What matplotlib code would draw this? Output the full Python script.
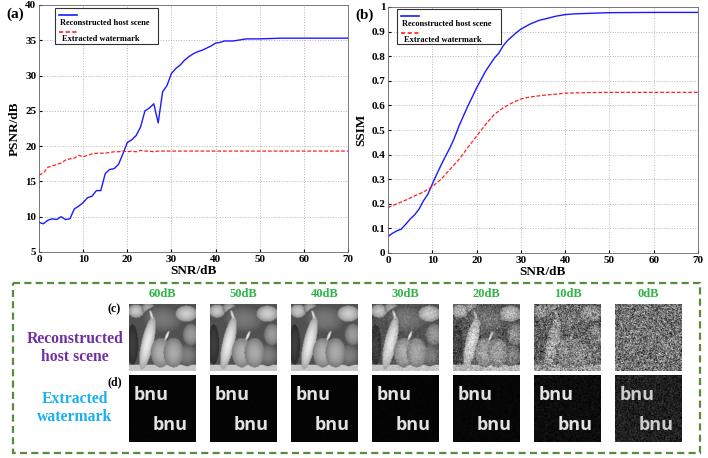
import numpy as np
import matplotlib
matplotlib.use('Agg')
import matplotlib.pyplot as plt
from matplotlib.patches import Rectangle
from matplotlib.lines import Line2D

# ---------------- data ----------------
snr_a = list(range(0, 51)) + [55, 60, 65, 70]
psnr_host = [9.2, 9.0, 9.5, 9.7, 9.6, 10.0, 9.6, 9.7, 11.1, 11.5,
             12.0, 12.7, 12.9, 13.7, 13.7, 16.1, 16.7, 16.8, 17.4, 18.9,
             20.5, 20.9, 21.5, 22.7, 25.0, 25.4, 26.0, 23.3, 27.7, 28.6,
             30.3, 31.0, 31.5, 32.2, 32.7, 33.1, 33.4, 33.6, 33.9, 34.2,
             34.6, 34.7, 34.9, 34.9, 34.9, 35.0, 35.1, 35.2, 35.2, 35.2,
             35.2, 35.3, 35.3, 35.3, 35.3]
psnr_mark = [15.9, 16.2, 17.0, 17.2, 17.4, 17.6, 18.0, 18.2, 18.3, 18.7,
             18.5, 18.7, 18.9, 19.0, 19.0, 19.0, 19.1, 19.2, 19.2, 19.3,
             19.2, 19.3, 19.2, 19.4, 19.3, 19.3, 19.2, 19.3, 19.3, 19.3,
             19.3, 19.3, 19.3, 19.3, 19.3, 19.3, 19.3, 19.3, 19.3, 19.3,
             19.3, 19.3, 19.3, 19.3, 19.3, 19.3, 19.3, 19.3, 19.3, 19.3,
             19.3, 19.3, 19.3, 19.3, 19.3]

snr_b_host = list(range(0, 31)) + [32, 34, 36, 38, 40, 42, 45, 50, 60, 70]
ssim_host = [0.067, 0.080, 0.090, 0.097, 0.117, 0.138, 0.155, 0.178, 0.212, 0.239,
             0.280, 0.320, 0.358, 0.394, 0.428, 0.468, 0.515, 0.556, 0.596, 0.633,
             0.671, 0.704, 0.738, 0.765, 0.792, 0.812, 0.842, 0.864, 0.880, 0.896,
             0.910, 0.930, 0.945, 0.954, 0.963, 0.969, 0.972, 0.974, 0.977, 0.978,
             0.978]
snr_b_mark = [0, 2, 4, 6, 8, 10, 12, 14, 16, 18, 20, 22, 24, 26, 28, 30,
              32, 35, 38, 40, 45, 50, 60, 70]
ssim_mark = [0.185, 0.200, 0.215, 0.232, 0.248, 0.270, 0.300, 0.340, 0.380, 0.428,
             0.475, 0.522, 0.563, 0.590, 0.610, 0.626, 0.634, 0.641, 0.646, 0.650,
             0.652, 0.653, 0.653, 0.653]

col_labels = ['60dB', '50dB', '40dB', '30dB', '20dB', '10dB', '0dB']
legend_labels = ['Reconstructed host scene', 'Extracted watermark']
watermark_text = 'bnu'

# ---------------- style ----------------
plt.rcParams['font.family'] = ['Liberation Serif', 'DejaVu Serif']
plt.rcParams['font.weight'] = 'bold'
W, H = 708, 458
BLUE = '#1a1aff'
RED = '#ff2020'
GREEN_TXT = '#2fb34a'
GREEN_BOX = '#5a8a3a'


def box(x0, y0, x1, y1):
    return [x0 / W, 1 - y1 / H, (x1 - x0) / W, (y1 - y0) / H]


fig = plt.figure(figsize=(W / 100, H / 100), dpi=100)


def style_axes(ax):
    ax.grid(True, ls=':', color='#b5b5b5', lw=0.7)
    ax.tick_params(direction='in', length=2, labelsize=8, pad=2)
    for lab in ax.get_xticklabels() + ax.get_yticklabels():
        lab.set_fontweight('bold')
    for s in ax.spines.values():
        s.set_linewidth(0.6)
        s.set_color('#666666')


# (a) PSNR
ax_a = fig.add_axes(box(39, 5, 348, 252))
ax_a.plot(snr_a, psnr_host, color=BLUE, lw=1.0)
ax_a.plot(snr_a, psnr_mark, color=RED, lw=0.9, ls=(0, (3, 1.5)))
ax_a.set_xlim(0, 70)
ax_a.set_ylim(5, 40)
ax_a.set_xticks(range(0, 71, 10))
ax_a.set_yticks(range(5, 41, 5))
ax_a.set_xlabel('SNR/dB', fontsize=9.5, fontweight='bold', labelpad=1)
ax_a.set_ylabel('PSNR/dB', fontsize=9.5, fontweight='bold', labelpad=3)
style_axes(ax_a)

# (b) SSIM
ax_b = fig.add_axes(box(388, 7, 698, 253))
ax_b.plot(snr_b_host, ssim_host, color=BLUE, lw=1.0)
ax_b.plot(snr_b_mark, ssim_mark, color=RED, lw=0.9, ls=(0, (3, 1.5)))
ax_b.set_xlim(0, 70)
ax_b.set_ylim(0, 1)
ax_b.set_xticks(range(0, 71, 10))
ax_b.set_yticks(np.arange(0, 1.01, 0.1))
ax_b.set_yticklabels(['0'] + [f'{v:.1f}' for v in np.arange(0.1, 0.95, 0.1)] + ['1'])
ax_b.set_xlabel('SNR/dB', fontsize=9.5, fontweight='bold', labelpad=1)
ax_b.set_ylabel('SSIM', fontsize=9.5, fontweight='bold', labelpad=3)
style_axes(ax_b)

# ---------------- synthetic pepper scene ----------------
n = 96
yy, xx = np.mgrid[0:n, 0:n] / n
scene = np.full((n, n), 0.32)
scene[yy > 0.9] = 0.78


def ell(cx, cy, rx, ry, ang, val):
    c, s = np.cos(ang), np.sin(ang)
    u = ((xx - cx) * c + (yy - cy) * s) / rx
    v = (-(xx - cx) * s + (yy - cy) * c) / ry
    d = u ** 2 + v ** 2
    m = d < 1
    scene[m] = val * (1.12 - 0.35 * d[m])


ell(0.10, 0.10, 0.12, 0.10, 0.0, 0.70)
ell(0.28, 0.06, 0.10, 0.08, 0.0, 0.60)
ell(0.50, 0.22, 0.30, 0.20, 0.1, 0.42)
ell(0.85, 0.14, 0.16, 0.12, 0.0, 0.72)
ell(0.92, 0.45, 0.12, 0.16, 0.0, 0.55)
ell(0.86, 0.76, 0.15, 0.16, 0.0, 0.45)
ell(0.05, 0.60, 0.08, 0.30, 0.0, 0.22)
ell(0.27, 0.58, 0.09, 0.40, 0.22, 0.82)
ell(0.47, 0.72, 0.15, 0.22, 0.0, 0.62)
ell(0.66, 0.72, 0.15, 0.22, 0.0, 0.60)
ell(0.56, 0.47, 0.02, 0.08, 0.4, 0.85)
ell(0.33, 0.16, 0.02, 0.08, -0.3, 0.80)

rng = np.random.default_rng(3)
scene_w = [1.0, 1.0, 1.0, 0.97, 0.85, 0.45, 0.04]
scene_sd = [0.0, 0.0, 0.01, 0.05, 0.12, 0.22, 0.26]
mark_mu = [0.02, 0.02, 0.02, 0.02, 0.03, 0.05, 0.12]
mark_sd = [0.006, 0.006, 0.006, 0.01, 0.015, 0.04, 0.09]

lefts = [129, 210, 291, 372, 453, 534, 615]
iw = 67
for k, lab in enumerate(col_labels):
    x0 = lefts[k]
    img = scene_w[k] * scene + (1 - scene_w[k]) * 0.45 + scene_sd[k] * rng.standard_normal((n, n))
    axc = fig.add_axes(box(x0, 304, x0 + iw, 371))
    axc.imshow(np.clip(img, 0, 1), cmap='gray', vmin=0, vmax=1, interpolation='bilinear')
    axc.axis('off')

    wm = mark_mu[k] + mark_sd[k] * rng.standard_normal((n, n))
    axd = fig.add_axes(box(x0, 375, x0 + iw, 442))
    axd.imshow(np.clip(wm, 0, 1), cmap='gray', vmin=0, vmax=1, interpolation='bilinear')
    axd.axis('off')
    tc = '#e2e2e2' if k < 6 else '#cccccc'
    for tx, ty in [(0.07, 0.70), (0.35, 0.26)]:
        axd.text(tx, ty, watermark_text, transform=axd.transAxes, color=tc,
                 fontsize=13, family=['Open Sans', 'DejaVu Sans'], fontweight='bold',
                 va='center', ha='left')

# ---------------- overlay: legends, labels, frame ----------------
ov = fig.add_axes([0, 0, 1, 1])
ov.set_xlim(0, W)
ov.set_ylim(H, 0)
ov.axis('off')


def draw_legend(x0, y0, x1, y1):
    ov.add_patch(Rectangle((x0, y0), x1 - x0, y1 - y0, facecolor='white',
                           edgecolor='#333333', lw=0.8))
    ov.add_line(Line2D([x0 + 4, x0 + 22], [y0 + 7, y0 + 7], color=BLUE, lw=1.2))
    ov.text(x0 + 5, y0 + 15, legend_labels[0], fontsize=6, fontweight='bold', va='center')
    ov.add_line(Line2D([x0 + 4, x0 + 22], [y0 + 24, y0 + 24], color=RED, lw=1.2,
                       ls=(0, (2.5, 1.5))))
    ov.text(x0 + 7, y0 + 31, legend_labels[1], fontsize=6, fontweight='bold', va='center')


draw_legend(55, 8, 158, 44)
draw_legend(397, 9, 501, 44)

ov.text(6, 14, '(a)', fontsize=11, fontweight='bold', va='center')
ov.text(355, 15, '(b)', fontsize=11, fontweight='bold', va='center')

ov.add_patch(Rectangle((13, 283), 687, 170, fill=False, edgecolor=GREEN_BOX,
                       lw=1.6, ls=(0, (3.2, 1.9))))

for k, lab in enumerate(col_labels):
    ov.text(lefts[k] + iw / 2, 294, lab, color=GREEN_TXT, fontsize=9,
            fontweight='bold', ha='center', va='center')

ov.text(121, 309, '(c)', fontsize=8.6, fontweight='bold', ha='right', va='center')
ov.text(122, 382, '(d)', fontsize=8.6, fontweight='bold', ha='right', va='center')
ov.text(75, 348, 'Reconstructed\nhost scene', color='#7030a0', fontsize=11.3,
        fontweight='bold', ha='center', va='center', linespacing=1.1)
ov.text(75, 408, 'Extracted\nwatermark', color='#1ab0ef', fontsize=11.3,
        fontweight='bold', ha='center', va='center', linespacing=1.1)

fig.savefig('out.png', dpi=100)
